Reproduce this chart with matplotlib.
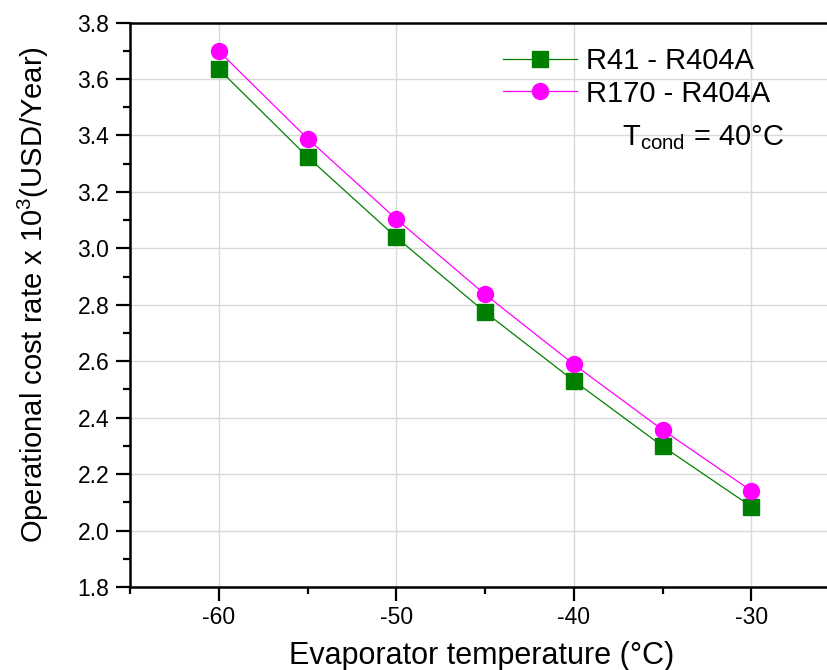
import matplotlib
matplotlib.use("Agg")
import matplotlib.pyplot as plt
from matplotlib.ticker import MultipleLocator

plt.rcParams['font.family'] = ['Liberation Sans', 'DejaVu Sans']
plt.rcParams['mathtext.fontset'] = 'custom'
plt.rcParams['mathtext.rm'] = 'Liberation Sans'
plt.rcParams['mathtext.it'] = 'Liberation Sans'

evap_temp = [-60, -55, -50, -45, -40, -35, -30]
r41_cost = [3.635, 3.324, 3.039, 2.774, 2.531, 2.299, 2.085]
r170_cost = [3.699, 3.389, 3.104, 2.837, 2.589, 2.357, 2.141]
series_labels = ["R41 - R404A", "R170 - R404A"]

W, H = 827, 670
fig = plt.figure(figsize=(W/100, H/100), dpi=100)
ax = fig.add_axes([130/W, (H-587)/H, 710/W, 564.5/H])

ax.plot(evap_temp, r41_cost, color='#008000', marker='s', markersize=11,
        linewidth=0.9, label=series_labels[0], zorder=3)
ax.plot(evap_temp, r170_cost, color='#ff00ff', marker='o', markersize=11.5,
        linewidth=0.9, label=series_labels[1], zorder=3)

ax.set_xlim(-65, -25)
ax.set_ylim(1.8, 3.8)
ax.xaxis.set_major_locator(MultipleLocator(10))
ax.xaxis.set_minor_locator(MultipleLocator(5))
ax.yaxis.set_major_locator(MultipleLocator(0.2))
ax.yaxis.set_minor_locator(MultipleLocator(0.1))
ax.yaxis.set_major_formatter(plt.FuncFormatter(lambda v, p: f"{v:.1f}"))
ax.xaxis.set_major_formatter(plt.FuncFormatter(lambda v, p: f"{v:.0f}"))

ax.grid(True, which='major', color='#d9d9d9', linewidth=1.0, zorder=0)
ax.set_axisbelow(True)
for s in ax.spines.values():
    s.set_linewidth(1.8)
    s.set_color('black')
ax.tick_params(which='major', direction='out', length=10, width=1.6, pad=5)
ax.tick_params(which='minor', direction='out', length=5, width=1.6)
ax.tick_params(axis='y', which='major', labelsize=16.5)
ax.tick_params(axis='x', which='major', labelsize=16.5, pad=4)

ax.set_xlabel("Evaporator temperature (°C)", fontsize=22)
ax.xaxis.label.set_va('baseline')
ax.xaxis.set_label_coords((482 - 130) / 710, -(664 - 587) / 564.5)

ax.set_ylabel(r"Operational cost rate x 10$^3$(USD/Year)", fontsize=21)
ax.yaxis.set_label_coords(-(130 - 33) / 710, (587 - 295) / 564.5)
ax.yaxis.label.set_va('center')

leg = ax.legend(loc='upper left', frameon=False, fontsize=21, handlelength=2.55,
                handletextpad=0.3, labelspacing=0.16, borderaxespad=0, borderpad=0)
leg.set_bbox_to_anchor((503/W, 1 - 47/H), transform=fig.transFigure)

fig.text(622/W, 1 - 138/H, r"T$_{\rm cond}$ = 40°C", fontsize=21, va='center', ha='left')

fig.savefig("out.png", dpi=100)
